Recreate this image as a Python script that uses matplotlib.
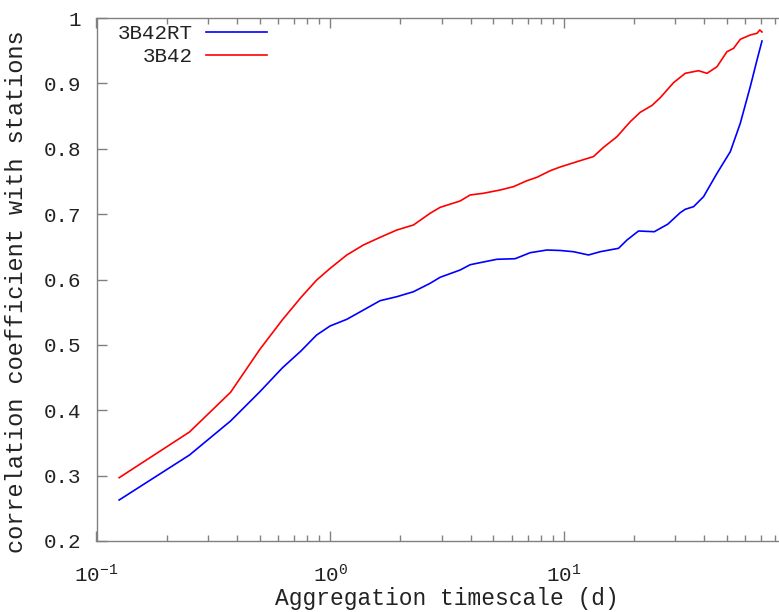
import matplotlib
matplotlib.use("Agg")
import matplotlib.pyplot as plt
from matplotlib.ticker import FixedLocator, LogLocator, NullFormatter

plt.rcParams['font.family'] = ['Liberation Mono', 'DejaVu Sans Mono']
plt.rcParams['mathtext.fontset'] = 'custom'
plt.rcParams['mathtext.rm'] = 'Liberation Mono'
plt.rcParams['mathtext.it'] = 'Liberation Mono'
plt.rcParams['mathtext.default'] = 'rm'

# ---- data ----
rt_x = [0.125, 0.25, 0.375, 0.5, 0.625, 0.75, 0.875, 1.0, 1.179, 1.389, 1.637,
        1.931, 2.274, 2.681, 2.959, 3.603, 3.978, 4.535, 5.175, 6.198, 7.186,
        8.472, 9.66, 11.02, 12.77, 14.33, 17.17, 18.66, 20.91, 24.42, 27.89,
        31.54, 33.14, 35.97, 39.69, 45.31, 51.66, 57.0, 62.9, 67.22, 70.6]
rt_y = [0.2627, 0.3315, 0.3836, 0.4282, 0.4649, 0.4906, 0.515, 0.5289, 0.5391,
        0.5533, 0.5676, 0.5737, 0.5813, 0.5942, 0.6034, 0.6145, 0.6226, 0.6268,
        0.6309, 0.6318, 0.641, 0.6451, 0.6444, 0.6425, 0.6375, 0.6425, 0.6477,
        0.6604, 0.6742, 0.6731, 0.6846, 0.7022, 0.7074, 0.7114, 0.7267, 0.7624,
        0.7955, 0.8389, 0.8949, 0.9358, 0.9648]

v7_x = [0.125, 0.25, 0.375, 0.5, 0.625, 0.75, 0.875, 1.0, 1.179, 1.389, 1.637,
        1.931, 2.274, 2.681, 2.959, 3.603, 3.978, 4.535, 5.348, 6.095, 6.957,
        7.678, 8.753, 9.66, 11.39, 13.42, 14.81, 16.9, 19.27, 21.27, 23.86,
        25.9, 29.53, 33.14, 37.78, 41.06, 45.31, 50.0, 53.36, 57.0, 62.9,
        67.22, 69.1, 70.6]
v7_y = [0.2968, 0.3667, 0.4275, 0.493, 0.5384, 0.5725, 0.599, 0.617, 0.6375,
        0.6528, 0.6645, 0.6757, 0.6834, 0.7013, 0.7104, 0.7201, 0.7293, 0.7319,
        0.7369, 0.742, 0.7511, 0.7563, 0.7664, 0.7721, 0.7802, 0.7881, 0.8022,
        0.8184, 0.8414, 0.8558, 0.8662, 0.8781, 0.9011, 0.9154, 0.9194, 0.9154,
        0.9255, 0.9485, 0.9536, 0.9674, 0.974, 0.9766, 0.9817, 0.9786]

series_labels = ['3B42RT', '3B42']
y_ticks = [0.2, 0.3, 0.4, 0.5, 0.6, 0.7, 0.8, 0.9, 1.0]
y_ticklabels = ['0.2', '0.3', '0.4', '0.5', '0.6', '0.7', '0.8', '0.9', '1']
x_ticks = [0.1, 1, 10]
x_ticklabels = ['10$^{-1}$', '10$^{0}$', '10$^{1}$']

# ---- figure ----
fig = plt.figure(figsize=(7.79, 6.12), dpi=100)
W, H = 779, 612
left_px, right_px, top_px, bottom_px = 96.5, 797.3, 18, 541
ax = fig.add_axes([left_px / W, (H - bottom_px) / H,
                   (right_px - left_px) / W, (bottom_px - top_px) / H])

ax.plot(rt_x, rt_y, color='#0000ff', lw=1.2, label=series_labels[0])
ax.plot(v7_x, v7_y, color='#ff0000', lw=1.2, label=series_labels[1])

ax.set_xscale('log')
ax.set_xlim(0.1, 100)
ax.set_ylim(0.2, 1.0)

ax.xaxis.set_major_locator(FixedLocator(x_ticks))
ax.set_xticklabels(x_ticklabels)
ax.xaxis.set_minor_locator(LogLocator(base=10, subs=range(2, 10)))
ax.xaxis.set_minor_formatter(NullFormatter())
ax.set_yticks(y_ticks)
ax.set_yticklabels(y_ticklabels)

spine_col = '#808080'
for s in ax.spines.values():
    s.set_color(spine_col)
    s.set_linewidth(1.0)

ax.tick_params(axis='both', which='major', direction='in', length=7, width=1,
               color=spine_col, top=True, right=True, labelsize=15,
               labelcolor='#222222')
ax.tick_params(axis='y', which='major', pad=11)
ax.tick_params(axis='x', which='major', pad=16)
ax.tick_params(axis='x', which='minor', direction='in', length=4, width=1,
               color=spine_col, top=True, bottom=True)

ax.set_xlabel('Aggregation timescale (d)', fontsize=16.5, color='#222222',
              labelpad=1)
ax.set_ylabel('correlation coefficient with stations', fontsize=17,
              color='#222222')
ax.yaxis.set_label_coords(-0.098, 0.477)

leg = ax.legend(loc='upper left', frameon=False, markerfirst=False, fontsize=15,
                handlelength=2.9, handletextpad=0.67, borderaxespad=0.0,
                labelspacing=0.2, alignment='right',
                bbox_to_anchor=(109 / W, (H - 16) / H),
                bbox_transform=fig.transFigure)
for t in leg.get_texts():
    t.set_ha('right')
    t.set_color('#222222')

fig.savefig('out.png', dpi=100)
